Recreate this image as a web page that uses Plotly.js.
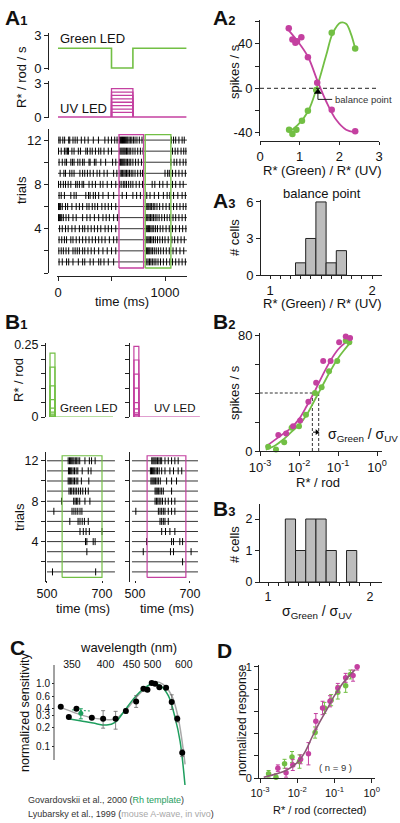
<!DOCTYPE html>
<html><head><meta charset="utf-8">
<script src="https://cdn.plot.ly/plotly-3.0.1.min.js"></script>
<style>html,body{margin:0;padding:0;background:#fff;}#chart{width:400px;height:823px;}</style>
</head><body><div id="chart"></div>
<script>
// ---------------- DATA ----------------
// A1 stimulus (R*/rod/s) and response windows (ms)
const a1GreenT = [0, 500, 500, 700, 700, 1200];
const a1GreenR = [1.8, 1.8, 0, 0, 1.8, 1.8];
const a1UvFlashT = [500, 700];
const a1UvBaseT = [0, 1200];
const a1UvLevels = [2.5, 2.2, 1.9, 1.6, 1.3, 1.0, 0.7, 0.4];
const a1TrialSpan = [0, 1205];
const a1UvWindow = [570, 800];
const a1GreenWindow = [815, 1055];
const windowTrials = [0.45, 12.5];
// A1 spike times, trial 1 ... trial 12 (ms)
const a1Spikes = [
 [10,40,80,100,140,190,230,250,300,330,380,400,430,470,520,830,842,855,868,882,898,915,935,958,985,1015,1045,1070,1100,1130,1160,1190],
 [8,30,50,75,100,140,160,180,200,230,250,280,310,340,380,420,460,500,540,828,838,848,858,870,884,900,918,938,960,985,1012,1040,1075,1105,1140,1175],
 [10,35,60,80,120,140,170,200,230,260,290,320,350,380,410,440,480,520,550,822,832,842,853,865,878,893,910,930,952,976,1000,1030,1065,1090,1120,1150,1180],
 [15,40,70,95,130,160,200,230,250,280,310,340,370,400,440,470,500,540,825,835,845,856,868,880,895,912,930,955,980,1010,1040,1070,1100,1135,1165,1195],
 [5,15,25,35,50,75,100,140,170,230,270,300,340,380,420,450,480,520,555,820,830,840,852,864,878,892,908,925,945,970,995,1020,1045,1075,1100,1130,1160,1190],
 [5,15,25,40,70,90,130,170,200,230,270,290,320,345,370,410,440,470,500,540,830,840,850,862,875,890,905,925,950,980,1010,1040,1080,1110,1140,1170,1195],
 [10,30,60,120,150,170,260,285,300,330,350,380,420,470,520,600,640,700,735,770,830,860,900,940,985,1020,1045,1080,1120,1160,1190],
 [5,25,50,70,95,120,165,180,200,225,240,290,320,350,395,420,460,500,540,575,590,610,625,640,660,680,700,730,760,790,880,905,950,980,1020,1070,1100,1140,1170],
 [20,55,70,110,130,150,205,230,250,275,300,330,365,390,430,460,520,550,580,592,604,616,628,640,654,668,684,700,720,745,770,790,1000,1025,1040,1070,1100,1130,1160,1190],
 [10,40,65,80,120,135,150,185,205,230,245,290,300,340,355,400,445,510,540,575,585,595,605,615,625,637,650,665,680,700,725,750,780,1055,1085,1110,1140,1170,1195],
 [5,30,60,75,88,98,130,150,190,210,260,275,300,320,350,380,400,430,470,500,578,588,598,608,618,628,640,652,665,680,700,720,745,770,795,1070,1095,1120,1150,1175,1195],
 [8,20,45,62,100,110,140,160,180,218,250,282,330,378,438,470,500,530,552,575,585,594,603,612,622,632,642,652,664,676,690,705,720,738,760,785,1060,1080,1100,1130,1160,1180]
];

// A2 responses (spikes/s) vs R*(Green)/R*(UV)
const a2RatioUv = [0.725, 0.817, 0.892, 0.933, 1.042, 1.208, 1.442, 1.808, 2.4];
const a2RateUv = [54, 44, 41, 42.4, 46, 28, 5, -19.4, -38.8];
const a2RatioGreen = [0.733, 0.817, 0.917, 1.058, 1.208, 1.417, 1.808, 2.4];
const a2RateGreen = [-37.3, -41.2, -37.3, -29.3, -20.3, -1.5, 50, 35.8];
const a2FitUvX = [0.725, 0.96, 1.21, 1.44, 1.67, 1.92, 2.17, 2.38];
const a2FitUvY = [52.2, 41.8, 28.4, 7.5, -11.9, -28.4, -37.3, -39.4];
const a2FitGreenX = [0.733, 0.96, 1.21, 1.44, 1.67, 1.83, 2.03, 2.17, 2.29, 2.4];
const a2FitGreenY = [-39.4, -32.8, -20.9, 1.5, 29.9, 49.3, 59.1, 58.2, 49.3, 35.8];
const balancePoint = 1.46;

// A3 histogram of balance points
const a3Bins = [1.3, 1.4, 1.5, 1.6, 1.7];
const a3Counts = [1, 3, 6, 1, 2];

// B1 flashes (R*/rod) and rasters
const b1GreenFlashT = [511, 529];
const b1GreenBaseT = [511, 740];
const b1GreenLevels = [0.222, 0.173, 0.108, 0.06, 0.031, 0.017, 0.01, 0.006, 0.002];
const b1UvFlashT = [496, 514];
const b1UvBaseT = [496, 736];
const b1UvLevels = [0.245, 0.198, 0.149, 0.1, 0.05, 0.028, 0.014, 0.008, 0.004];
const b1GreenSpan = [500, 747];
const b1UvSpan = [489, 729];
const b1GreenWindow = [555, 700];
const b1UvWindow = [544, 685];
const b1GreenSpikes = [
 [520,677], [], [645], [640,645,668,675], [620,632,642,654,700],
 [583,613,620,628,636,650], [525,591,598,605,612,620,627], [553,597,602,607,612,619,638,656],
 [580,585,590,596,602,608,615,622,630,640,650], [577,581,585,590,595,600,606,612,625,652],
 [578,582,586,590,595,600,606,612,628,650,660], [577,582,586,590,594,598,603,608,613,619,638,654,662,675]
];
const b1UvSpikes = [
 [], [673], [530,629,640,704], [542,633,640,663,673], [597,611,627,645],
 [591,597,603,609,621], [503,585,591,597,603,609,621,633,645], [573,578,583,588,594,600,610,621,633,645],
 [573,577,581,586,591,597,603,633], [558,562,566,570,575,580,585,592,615,633,651],
 [556,560,564,568,572,577,582,588,597,609,627,640,657,670], [561,565,569,573,577,582,587,592,597,609,621,633,645,657]
];

// B2 intensity-response (spikes/s vs R*/rod)
const b2UvX = [0.00295, 0.00468, 0.00708, 0.0107, 0.0174, 0.0275, 0.0417, 0.0646, 0.107, 0.158, 0.204];
const b2UvY = [11, 12, 17, 21, 34, 47, 62, 62, 75, 79, 78];
const b2GreenX = [0.00162, 0.00257, 0.00417, 0.00646, 0.01, 0.0151, 0.0257, 0.038, 0.0589, 0.0955, 0.158, 0.195];
const b2GreenY = [3, 1, 6, 16, 17, 25, 40, 44, 55, 62, 76, 75];
const b2FitX = [0.00141, 0.00251, 0.00398, 0.00631, 0.01, 0.0158, 0.0251, 0.0398, 0.0631, 0.1, 0.158, 0.224];
const b2FitUvY = [3, 8, 12, 16, 22, 31, 41, 52, 62, 70, 75, 78];
const b2FitGreenY = [1, 4, 8, 13, 18, 25, 35, 45, 55, 64, 71, 76];
const b2HalfMax = 40;
const sigmaUv = 0.022;
const sigmaGreen = 0.032;

// B3 histogram of sigma ratios
const b3Bins = [1.22, 1.32, 1.42, 1.52, 1.62, 1.82];
const b3Counts = [2, 1, 2, 2, 1, 1];

// C spectral sensitivity
const cNm = [336, 346, 356, 378, 396, 418, 438, 460, 477, 487, 498, 507, 519, 539, 557, 576, 594];
const cSens = [0.42, 0.29, 0.39, 0.28, 0.27, 0.27, 0.36, 0.51, 0.81, 0.78, 1.0, 0.97, 0.86, 0.84, 0.50, 0.27, 0.078];
const cErrPlus = [0, 0, 0, 0, 0.094, 0.085, 0.03, 0.12, 0.03, 0, 0.03, 0.03, 0, 0, 0.15, 0.03, 0.01];
const cErrMinus = [0, 0, 0, 0, 0.078, 0.085, 0.03, 0.10, 0.03, 0, 0.03, 0.03, 0, 0, 0.12, 0.03, 0.01];
const cAwaveNm = [336, 356, 375, 396, 417, 440, 461, 485, 507, 530, 557, 579, 605];
const cAwaveS = [0.41, 0.33, 0.285, 0.265, 0.268, 0.388, 0.60, 0.86, 1.04, 0.95, 0.63, 0.285, 0.051];
const cRhNm = [347, 361, 380, 402, 417, 433, 454, 477, 502, 521, 546, 568, 586, 605];
const cRhS = [0.268, 0.252, 0.231, 0.215, 0.237, 0.343, 0.56, 0.81, 0.98, 0.92, 0.63, 0.285, 0.12, 0.023];
const cRhPointNm = [362];
const cRhPointS = [0.33];
const cRhPointErr = [0.06];
const cRhDashNm = [350, 375];
const cRhDashS = [0.375, 0.36];
const cTickNm = [350, 400, 450, 500, 600];
const cTickS = [0.1, 0.2, 0.3, 0.4, 0.6, 1.0];

// D normalized responses
const dUvX = [0.00302, 0.00501, 0.00759, 0.0123, 0.02, 0.0316, 0.0479, 0.0759, 0.123, 0.2, 0.316, 0.407];
const dUvY = [0.09, 0.05, 0.12, 0.17, 0.22, 0.51, 0.63, 0.69, 0.81, 0.90, 0.92, 1.0];
const dUvErr = [0.03, 0.04, 0.05, 0.04, 0.10, 0.07, 0.06, 0.05, 0.04, 0.04, 0.05, 0.03];
const dGreenX = [0.0017, 0.00269, 0.00457, 0.00724, 0.0115, 0.0302, 0.0537, 0.0813, 0.123, 0.2, 0.269];
const dGreenY = [0.04, 0.01, 0.13, 0.19, 0.15, 0.41, 0.63, 0.70, 0.77, 0.83, 0.93];
const dGreenErr = [0.03, 0.03, 0.04, 0.05, 0.06, 0.05, 0.05, 0.05, 0.06, 0.06, 0.04];
const dFitX = [0.00126, 0.00251, 0.00501, 0.01, 0.0158, 0.0251, 0.0398, 0.0631, 0.1, 0.158, 0.251, 0.355];
const dFitY = [0.01, 0.035, 0.07, 0.14, 0.23, 0.37, 0.50, 0.62, 0.74, 0.84, 0.92, 0.97];
const dN = 9;

// ---------------- STYLE / HELPERS ----------------
const W = 400, H = 823;
const px = v => v / W;
const py = v => 1 - v / H;
const FONT = 'Liberation Sans, Arial, Helvetica, sans-serif';
const MAG = '#c440a0', GRN = '#72bf44', RH = '#1e9e5e', GRAY = '#a8a8a8', INK = '#111';

function ax(o) {
  return Object.assign({showgrid:false, zeroline:false, showline:true, linecolor:'#222', linewidth:1,
    ticks:'outside', ticklen:4, tickwidth:1, tickcolor:'#222',
    tickfont:{family:FONT, size:13, color:INK}, fixedrange:true}, o);
}
const minor = (vals, len) => ({tickmode:'array', tickvals:vals, ticks:'outside', ticklen:len || 4, tickwidth:1, tickcolor:'#222', showgrid:false});
function flashPath(t, levels, base) {
  const x = [], y = [];
  levels.forEach(L => { x.push(t[0], t[0], t[1], t[1], null); y.push(0, L, L, 0, null); });
  x.push(base[0], base[1]); y.push(0, 0);
  return {x, y};
}
function trialLines(span, n) {
  const x = [], y = [];
  for (let k = 1; k <= n; k++) { x.push(span[0], span[1], null); y.push(k, k, null); }
  return {x, y};
}
function spikePts(trials) {
  const x = [], y = [];
  trials.forEach((arr, i) => arr.forEach(t => { x.push(t); y.push(i + 1); }));
  return {x, y};
}
function rectPath(w, tr) {
  return {x:[w[0], w[0], w[1], w[1], w[0]], y:[tr[0], tr[1], tr[1], tr[0], tr[0]]};
}
const traces = [];
function add(xa, ya, d, o) { traces.push(Object.assign({x:d.x, y:d.y, xaxis:xa, yaxis:ya, hoverinfo:'skip', type:'scatter'}, o)); }
const L = (color, width, extra) => ({mode:'lines', line:Object.assign({color, width}, extra || {})});
const P = (color, size) => ({mode:'markers', marker:{color, size}, cliponaxis:false});
const spikeStyle = (size) => ({mode:'markers', marker:{symbol:'line-ns', size, line:{color:'#000', width:1}}, cliponaxis:false});

// ---------------- A1 ----------------
add('x', 'y', {x:a1GreenT, y:a1GreenR}, L(GRN, 1.6));
add('x2', 'y2', flashPath(a1UvFlashT, a1UvLevels, a1UvBaseT), L(MAG, 1.3));
add('x3', 'y3', trialLines(a1TrialSpan, 12), L('#333', 1));
add('x3', 'y3', spikePts(a1Spikes), spikeStyle(5));
add('x3', 'y3', rectPath(a1UvWindow, windowTrials), L(MAG, 1.3));
add('x3', 'y3', rectPath(a1GreenWindow, windowTrials), L(GRN, 1.3));

// ---------------- A2 ----------------
add('x4', 'y4', {x:a2FitUvX, y:a2FitUvY}, L(MAG, 1.8, {shape:'spline'}));
add('x4', 'y4', {x:a2FitGreenX, y:a2FitGreenY}, L(GRN, 1.8, {shape:'spline'}));
add('x4', 'y4', {x:a2RatioUv, y:a2RateUv}, P(MAG, 6.5));
add('x4', 'y4', {x:a2RatioGreen, y:a2RateGreen}, P(GRN, 6.5));
// balance-point pointer: stem + elbow, then arrow head
add('x4', 'y4', {x:[balancePoint, balancePoint, 1.82], y:[-4, -10, -10]}, L('#222', 1));
add('x4', 'y4', {x:[balancePoint], y:[-3.3]}, {mode:'markers', marker:{symbol:'triangle-up', size:7, color:'#000'}, cliponaxis:false});

// ---------------- A3 ----------------
traces.push({type:'bar', x:a3Bins, y:a3Counts, width:0.1, xaxis:'x5', yaxis:'y5', hoverinfo:'skip',
  marker:{color:'#bdbdbd', line:{color:'#222', width:1}}});

// ---------------- B1 ----------------
add('x6', 'y6', flashPath(b1GreenFlashT, b1GreenLevels, b1GreenBaseT), L(GRN, 1.2));
add('x7', 'y7', flashPath(b1UvFlashT, b1UvLevels, b1UvBaseT), L(MAG, 1.2));
add('x8', 'y8', trialLines(b1GreenSpan, 12), L('#333', 1));
add('x8', 'y8', spikePts(b1GreenSpikes), spikeStyle(5));
add('x8', 'y8', rectPath(b1GreenWindow, windowTrials), L(GRN, 1.2));
add('x9', 'y9', trialLines(b1UvSpan, 12), L('#333', 1));
add('x9', 'y9', spikePts(b1UvSpikes), spikeStyle(5));
add('x9', 'y9', rectPath(b1UvWindow, windowTrials), L(MAG, 1.2));

// ---------------- B2 ----------------
add('x10', 'y10', {x:[b2FitX[0] * 0.7, sigmaGreen, null, sigmaUv, sigmaUv, null, sigmaGreen, sigmaGreen],
                   y:[b2HalfMax, b2HalfMax, null, b2HalfMax, 0, null, b2HalfMax, 0]}, L('#333', 1, {dash:'3px,2px'}));
add('x10', 'y10', {x:b2FitX, y:b2FitGreenY}, L(GRN, 1.8, {shape:'spline'}));
add('x10', 'y10', {x:b2FitX, y:b2FitUvY}, L(MAG, 1.8, {shape:'spline'}));
add('x10', 'y10', {x:b2GreenX, y:b2GreenY}, P(GRN, 6));
add('x10', 'y10', {x:b2UvX, y:b2UvY}, P(MAG, 6));
add('x10', 'y10', {x:[sigmaUv * 1.04, sigmaGreen * 0.9], y:[13, 13]}, L('#000', 1));
add('x10', 'y10', {x:[sigmaGreen * 0.9], y:[13]}, {mode:'markers', marker:{symbol:'triangle-right', size:5, color:'#000'}, cliponaxis:false});

// ---------------- B3 ----------------
traces.push({type:'bar', x:b3Bins, y:b3Counts, width:0.1, xaxis:'x11', yaxis:'y11', hoverinfo:'skip',
  marker:{color:'#bdbdbd', line:{color:'#222', width:1}}});

// ---------------- C ----------------
const inv = a => a.map(l => 1000 / l);
add('x12', 'y12', {x:inv(cAwaveNm), y:cAwaveS}, L(GRAY, 1.5, {shape:'spline'}));
add('x12', 'y12', {x:inv(cRhNm), y:cRhS}, L(RH, 1.5, {shape:'spline'}));
add('x12', 'y12', {x:inv(cRhDashNm), y:cRhDashS}, L(RH, 1, {dash:'2px,2px'}));
add('x12', 'y12', {x:inv(cNm), y:cSens}, Object.assign(P('#000', 6),
  {error_y:{type:'data', symmetric:false, array:cErrPlus, arrayminus:cErrMinus, color:'#666', thickness:0.8, width:2}}));
add('x12', 'y12', {x:inv(cRhPointNm), y:cRhPointS}, Object.assign(P(RH, 5),
  {error_y:{type:'data', array:cRhPointErr, color:RH, thickness:1, width:2}}));

// ---------------- D ----------------
add('x13', 'y13', {x:dGreenX, y:dGreenY}, Object.assign(P(GRN, 5.5),
  {error_y:{type:'data', array:dGreenErr, color:GRN, thickness:1, width:2}}));
add('x13', 'y13', {x:dUvX, y:dUvY}, Object.assign(P(MAG, 5.5),
  {error_y:{type:'data', array:dUvErr, color:MAG, thickness:1, width:2}}));
add('x13', 'y13', {x:dFitX, y:dFitY}, L('#8c5877', 1.6, {shape:'spline'}));

// ---------------- LAYOUT ----------------
const logTicks = [0.001, 0.01, 0.1, 1];
const logText = ['10<sup>-3</sup>', '10<sup>-2</sup>', '10<sup>-1</sup>', '10<sup>0</sup>'];
const tenthsMinor = [1.1,1.2,1.3,1.4,1.5,1.6,1.7,1.8,1.9];
const f = s => ({family:FONT, size:s, color:INK});

const layout = {
  width: W, height: H, margin:{l:0, r:0, t:0, b:0}, showlegend:false,
  paper_bgcolor:'#fff', plot_bgcolor:'rgba(0,0,0,0)', font:{family:FONT, color:INK},
  bargap:0,
  // A1
  xaxis: ax({domain:[px(57), px(187)], range:[-9.3, 1205.6], visible:false, anchor:'y'}),
  yaxis: ax({domain:[py(70), py(33)], range:[-0.182, 3.182], anchor:'free', position:px(48), tickvals:[0,3]}),
  xaxis2: ax({domain:[px(57), px(187)], range:[-9.3, 1205.6], visible:false, anchor:'y2'}),
  yaxis2: ax({domain:[py(118), py(81)], range:[-0.088, 3.177], anchor:'free', position:px(48), tickvals:[0,3]}),
  xaxis3: ax({domain:[px(57), px(187)], range:[-9.3, 1205.6], anchor:'free', position:py(276),
    tickvals:[0,1000], minor:minor([500])}),
  yaxis3: ax({domain:[py(273), py(129)], range:[0, 13], anchor:'free', position:px(48),
    tickvals:[4,8,12], minor:minor([0,2,6,10])}),
  // A2
  xaxis4: ax({domain:[px(260), px(379)], range:[0, 3], anchor:'free', position:py(141), ticklen:3, tickvals:[0,1,2,3]}),
  yaxis4: ax({domain:[py(136), py(20)], range:[-42.97, 61.53], anchor:'x4',
    tickvals:[-40,0,40], ticktext:['-40','0','40'], minor:minor([-20,20,60])}),
  // A3
  xaxis5: ax({domain:[px(261), px(382)], range:[0.9118, 2.098], anchor:'y5', ticklen:3, tickvals:[1,2], minor:minor(tenthsMinor, 3)}),
  yaxis5: ax({domain:[py(275), py(200)], range:[0, 6.16], anchor:'x5', tickvals:[0,3,6]}),
  // B1 stimuli
  xaxis6: ax({domain:[px(46), px(116)], range:[496.4, 750.9], visible:false, anchor:'y6'}),
  yaxis6: ax({domain:[py(417), py(343)], range:[0, 0.257], anchor:'free', position:px(45),
    tickvals:[0,0.25], ticktext:['0','0.25'], minor:minor([0.05,0.1,0.15,0.2]), tickfont:f(12.5)}),
  xaxis7: ax({domain:[px(130), px(200)], range:[481.8, 736.4], visible:false, anchor:'y7'}),
  yaxis7: ax({domain:[py(417), py(343)], range:[0, 0.257], anchor:'free', position:px(128.5),
    showticklabels:false, tickvals:[0,0.05,0.1,0.15,0.2,0.25]}),
  // B1 rasters
  xaxis8: ax({domain:[px(46), px(116)], range:[496.4, 750.9], anchor:'free', position:py(580), showline:false,
    ticklen:2, tickvals:[500,700], tickfont:f(12.5)}),
  yaxis8: ax({domain:[py(582), py(451.7)], range:[0, 12.9], anchor:'free', position:px(45),
    tickvals:[4,8,12], minor:minor([2,6,10]), tickfont:f(12.5)}),
  xaxis9: ax({domain:[px(130), px(200)], range:[481.8, 736.4], anchor:'free', position:py(580), showline:false,
    ticklen:2, tickvals:[500,700], tickfont:f(12.5)}),
  yaxis9: ax({domain:[py(582), py(451.7)], range:[0, 12.9], anchor:'free', position:px(128.5),
    tickvals:[2,4,6,8,10,12], showticklabels:false}),
  // B2
  xaxis10: ax({domain:[px(260), px(382)], type:'log', range:[-3, 0.128], anchor:'y10', tickvals:logTicks, ticktext:logText}),
  yaxis10: ax({domain:[py(451), py(333)], range:[0, 81.4], anchor:'x10', tickvals:[0,80], minor:minor([20,40,60])}),
  // B3
  xaxis11: ax({domain:[px(260), px(382)], range:[0.9216, 2.1176], anchor:'y11', ticklen:3, tickvals:[1,2], minor:minor(tenthsMinor, 3),
    tickfont:f(12.5)}),
  yaxis11: ax({domain:[py(582), py(504)], range:[0, 2.476], anchor:'x11', tickvals:[0,1,2], tickfont:f(12.5)}),
  // C
  xaxis12: ax({domain:[px(54), px(188)], range:[3.048, 1.622], side:'top', anchor:'free', position:py(670), showline:false,
    ticks:'', tickvals:inv(cTickNm), ticktext:cTickNm.map(String), tickfont:f(10.5)}),
  yaxis12: ax({domain:[py(785), py(665)], type:'log', range:[-1.619, 0.286], anchor:'free', position:px(54), showline:false,
    ticklen:2, tickvals:cTickS, ticktext:cTickS.map(v => v.toFixed(1)), tickfont:f(10)}),
  // D
  xaxis13: ax({domain:[px(259), px(375)], type:'log', range:[-3.027, 0.089], anchor:'y13', tickvals:logTicks, ticktext:logText,
    tickfont:f(11)}),
  yaxis13: ax({domain:[py(778.3), py(665)], range:[0, 1.015], anchor:'x13', tickvals:[0,1], minor:minor([0.2,0.4,0.6,0.8]),
    tickfont:f(11)}),
  shapes: [
    {type:'line', xref:'x4', yref:'y4', x0:0, x1:3, y0:0, y1:0, line:{color:'#222', width:1, dash:'4px,3px'}},
    {type:'line', xref:'paper', yref:'paper', x0:px(54), x1:px(54), y0:py(665), y1:py(760), line:{color:'#444', width:1}}
  ],
  annotations: []
};

function T(text, x, y, size, o) {
  return Object.assign({text, x:px(x), y:py(y), xref:'paper', yref:'paper', showarrow:false,
    font:{family:FONT, size, color:INK}, xanchor:'center', yanchor:'middle'}, o || {});
}
const lbl = (letter, sub) => '<b>' + letter + '</b>' + (sub ? "<b><span style='font-size:13px'>" + sub + '</span></b>' : '');
const A = layout.annotations;
A.push(T(lbl('A','1'), 3, 17, 21, {xanchor:'left'}));
A.push(T(lbl('A','2'), 211, 17, 21, {xanchor:'left'}));
A.push(T(lbl('A','3'), 211, 200, 21, {xanchor:'left'}));
A.push(T(lbl('B','1'), 3, 321, 21, {xanchor:'left'}));
A.push(T(lbl('B','2'), 211, 321, 21, {xanchor:'left'}));
A.push(T(lbl('B','3'), 211, 508, 21, {xanchor:'left'}));
A.push(T(lbl('C'), 8, 647, 21, {xanchor:'left'}));
A.push(T(lbl('D'), 215, 650, 21, {xanchor:'left'}));
// A1
A.push(T('Green LED', 58, 39, 13, {xanchor:'left'}));
A.push(T('UV LED', 58, 109, 13, {xanchor:'left'}));
A.push(T('R* / rod / s', 22, 77, 13, {textangle:-90}));
A.push(T('trials', 22, 190, 13, {textangle:-90}));
A.push(T('time (ms)', 122, 301, 13));
// A2
A.push(T('spikes / s', 234, 72, 13, {textangle:-90}));
A.push(T('R* (Green) / R* (UV)', 322, 169, 13, {yanchor:'top', y:py(161)}));
A.push({text:'balance point', x:1.85, y:-10, xref:'x4', yref:'y4', showarrow:false, xanchor:'left', yanchor:'middle',
  font:{family:FONT, size:9.5, color:'#333'}});
// A3
A.push(T('balance point', 322, 193, 13));
A.push(T('# cells', 234, 238, 13, {textangle:-90}));
A.push(T('R* (Green) / R* (UV)', 322, 303, 13));
// B1
A.push(T('R* / rod', 19, 380, 13, {textangle:-90}));
A.push(T('Green LED', 58, 408, 11.5, {xanchor:'left'}));
A.push(T('UV LED', 152, 408, 11.5, {xanchor:'left'}));
A.push(T('trials', 19, 517, 13, {textangle:-90}));
A.push(T('time (ms)', 83, 608, 13));
A.push(T('time (ms)', 167, 608, 13));
// B2
A.push(T('spikes / s', 234, 393, 13, {textangle:-90}));
A.push(T('R* / rod', 318, 482, 13));
A.push(T('σ<sub>Green</sub> / σ<sub>UV</sub>', 326, 435, 14, {xanchor:'left'}));
// B3
A.push(T('# cells', 234, 545, 13, {textangle:-90}));
A.push(T('σ<sub>Green</sub> / σ<sub>UV</sub>', 317, 612, 14));
// C
A.push(T('wavelength (nm)', 128, 647, 13));
A.push(T('normalized sensitivity', 25, 712, 12.5, {textangle:-90}));
A.push(T("Govardovskii et al., 2000 (<span style='color:" + RH + "'>Rh template</span>)", 26, 800, 9, {xanchor:'left', font:{family:FONT,size:9,color:'#333'}}));
A.push(T("Lyubarsky et al., 1999 (<span style='color:" + GRAY + "'>mouse A-wave, in vivo</span>)", 26, 814, 9, {xanchor:'left', font:{family:FONT,size:9,color:'#333'}}));
// D
A.push(T('normalized response', 242, 720, 12, {textangle:-90}));
A.push(T('R* / rod (corrected)', 320, 810, 11));
A.push(T('( n = ' + dN + ' )', 335, 767, 9.5, {font:{family:FONT,size:9.5,color:'#333'}}));

Plotly.newPlot('chart', traces, layout, {staticPlot:true, displayModeBar:false});
</script>
</body></html>
